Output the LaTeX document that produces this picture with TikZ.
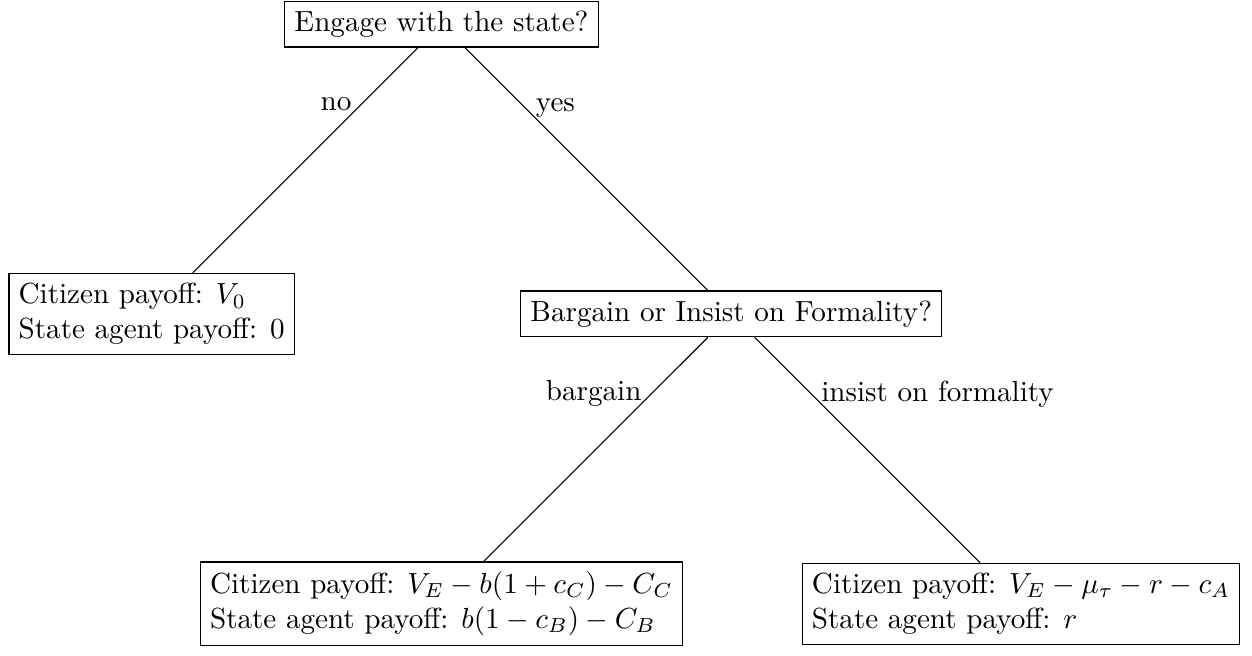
\documentclass[tikz,border=0pt]{standalone}
\begin{document}
\begin{tikzpicture}[
  box/.style={draw, align=left},
  lbl/.style={near start}
]
\node[box] (root) at (0,0) {Engage with the state?};
\node[box] (nope) at (-3.5,-3.5) {Citizen payoff: $V_0$\\State agent payoff: $0$};
\node[box] (mid) at (3.5,-3.5) {Bargain or Insist on Formality?};
\node[box] (barg) at (0,-7) {Citizen payoff: $V_E - b(1+c_C) - C_C$\\State agent payoff: $b(1-c_B) - C_B$};
\node[box] (form) at (7,-7) {Citizen payoff: $V_E - \mu_\tau - r - c_A$\\State agent payoff: $r$};
\draw (root) -- node[lbl,left] {no} (nope);
\draw (root) -- node[lbl,right] {yes} (mid);
\draw (mid) -- node[lbl,left] {bargain} (barg);
\draw (mid) -- node[lbl,right] {insist on formality} (form);
\path (nope.west |- root.north) ++(-2.9pt,0.2pt) coordinate (bbtl);
\path (form.east |- barg.south) ++(4pt,-3.1pt) coordinate (bbbr);
\useasboundingbox (bbtl) rectangle (bbbr);
\end{tikzpicture}
\end{document}
